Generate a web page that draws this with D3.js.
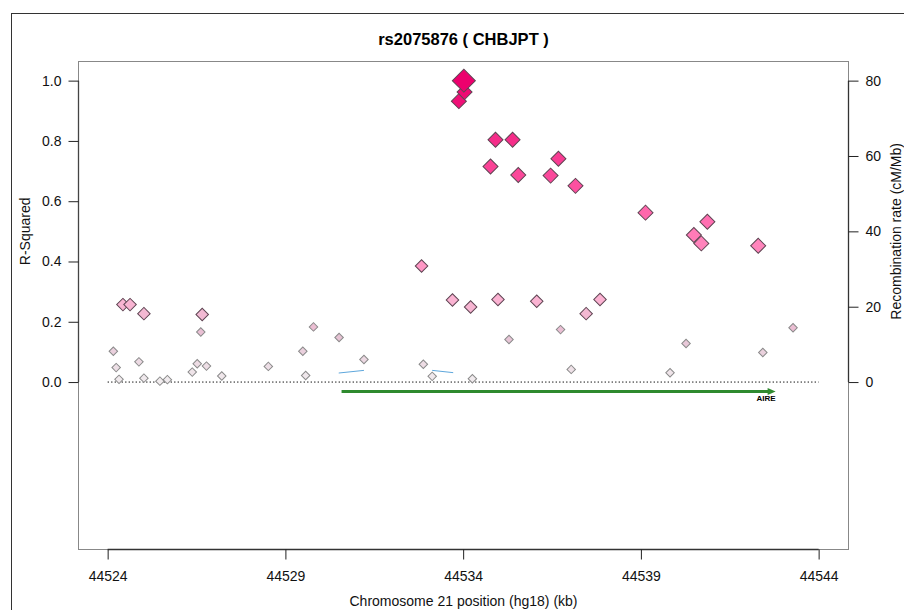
<!DOCTYPE html>
<html>
<head>
<meta charset="utf-8">
<script src="https://cdn.jsdelivr.net/npm/d3@7"></script>
<style>
  body { margin: 0; background: #fff; }
  text { font-family: "Liberation Sans", Arial, sans-serif; }
</style>
</head>
<body>
<div id="main"></div>
<script>
const ctx = {
    CHART_WIDTH: 904,
    CHART_HEIGHT: 610,
    FONT_SIZE: 14
};

const plot = {left: 78.5, right: 848.5, top: 61.5, bottom: 549.5};

// SNPs: position (kb) and r-squared with the query SNP
const snpPos = [44524.16, 44524.24, 44524.32, 44524.43, 44524.63, 44524.88, 44525.02, 44525.02,
    44525.47, 44525.68, 44526.38, 44526.52, 44526.62, 44526.66, 44526.78, 44527.21,
    44528.52, 44529.49, 44529.57, 44529.79, 44530.51, 44531.21, 44532.83, 44532.88,
    44533.13, 44533.70, 44533.88, 44534.02, 44534.04, 44534.21, 44534.26, 44534.77,
    44534.91, 44534.98, 44535.29, 44535.39, 44535.55, 44536.07, 44536.46, 44536.68,
    44536.74, 44537.04, 44537.16, 44537.46, 44537.85, 44539.13, 44539.82, 44540.27,
    44540.49, 44540.70, 44540.87, 44542.30, 44542.43, 44543.28];
const snpR2 = [0.102, 0.048, 0.009, 0.257, 0.257, 0.067, 0.227, 0.013,
    0.003, 0.008, 0.033, 0.061, 0.166, 0.224, 0.053, 0.020,
    0.052, 0.102, 0.022, 0.183, 0.148, 0.075, 0.385, 0.059,
    0.019, 0.272, 0.932, 1.000, 0.962, 0.249, 0.011, 0.715,
    0.804, 0.274, 0.141, 0.804, 0.687, 0.268, 0.685, 0.741,
    0.174, 0.042, 0.651, 0.227, 0.274, 0.562, 0.031, 0.128,
    0.488, 0.460, 0.532, 0.452, 0.098, 0.180];

// recombination rate (cM/Mb), null = gap
const recombPos = [44530.50, 44531.21, null, 44533.13, 44533.72];
const recombRate = [2.4, 3.1, null, 3.1, 2.5];

const geneName = "AIRE";
const geneStart = 44530.58;
const geneEnd = 44542.79;

const xTicks = [44524, 44529, 44534, 44539, 44544];
const yTicks = [0.0, 0.2, 0.4, 0.6, 0.8, 1.0];
const rTicks = [0, 20, 40, 60, 80];

const title = "rs2075876 ( CHBJPT )";
const xLabel = "Chromosome 21 position (hg18) (kb)";
const yLabel = "R-Squared";
const rLabel = "Recombination rate (cM/Mb)";

function createViz() {
    let svg = d3.select("#main").append("svg")
        .attr("width", ctx.CHART_WIDTH)
        .attr("height", ctx.CHART_HEIGHT);

    let xScale = d3.scaleLinear().domain([44523.18, 44544.84]).range([plot.left, plot.right]);
    let yScale = d3.scaleLinear().domain([-0.5555, 1.0635]).range([plot.bottom, plot.top]);
    let rScale = d3.scaleLinear().domain([0, 80]).range([yScale(0), yScale(1)]);

    // outer frame (runs past the window on right and bottom)
    svg.append("rect")
        .attr("x", 11.5).attr("y", 13.5)
        .attr("width", 1000).attr("height", 1000)
        .attr("fill", "none").attr("stroke", "#333");

    // plot box
    svg.append("rect")
        .attr("x", plot.left).attr("y", plot.top)
        .attr("width", plot.right - plot.left).attr("height", plot.bottom - plot.top)
        .attr("fill", "none").attr("stroke", "#888");

    drawAxes(svg, xScale, yScale, rScale);

    // dotted zero line
    svg.append("line")
        .attr("x1", xScale(44524)).attr("x2", xScale(44544))
        .attr("y1", yScale(0)).attr("y2", yScale(0))
        .attr("stroke", "#000").attr("stroke-dasharray", "1.3,2.2");

    // recombination rate
    let recomb = recombPos.map((p, i) => ({pos: p, rate: recombRate[i]}));
    svg.append("path")
        .datum(recomb)
        .attr("fill", "none")
        .attr("stroke", "#5ea7dc")
        .attr("stroke-width", 1)
        .attr("d", d3.line()
            .defined(d => d.pos !== null)
            .x(d => xScale(d.pos))
            .y(d => rScale(d.rate)));

    drawGene(svg, xScale, yScale);
    drawSnps(svg, xScale, yScale);

    // title
    svg.append("text")
        .attr("x", (plot.left + plot.right) / 2).attr("y", 45)
        .attr("text-anchor", "middle")
        .attr("font-size", 16.5).attr("font-weight", "bold")
        .text(title);
}

function drawAxes(svg, xScale, yScale, rScale) {
    let axisG = svg.append("g").attr("id", "axes");

    // bottom
    let bottom = axisG.append("g")
        .attr("transform", `translate(0, ${plot.bottom})`)
        .call(d3.axisBottom(xScale).tickValues(xTicks).tickSize(10).tickPadding(12).tickFormat(d3.format("d")));
    bottom.select(".domain").attr("d", `M${xScale(xTicks[0])},0H${xScale(xTicks[xTicks.length - 1])}`)
        .attr("stroke", "#333").attr("stroke-width", 1.6);

    // left
    let left = axisG.append("g")
        .attr("transform", `translate(${plot.left}, 0)`)
        .call(d3.axisLeft(yScale).tickValues(yTicks).tickSize(10).tickPadding(7).tickFormat(d3.format(".1f")));
    left.select(".domain").attr("d", `M0,${yScale(0)}V${yScale(1)}`)
        .attr("stroke", "#444").attr("stroke-width", 1.3);

    // right
    let right = axisG.append("g")
        .attr("transform", `translate(${plot.right}, 0)`)
        .call(d3.axisRight(rScale).tickValues(rTicks).tickSize(10).tickPadding(7));
    right.select(".domain").attr("d", `M0,${rScale(0)}V${rScale(80)}`)
        .attr("stroke", "#333").attr("stroke-width", 1.3);

    axisG.selectAll(".tick text")
        .attr("font-family", "Liberation Sans, Arial, sans-serif")
        .attr("font-size", ctx.FONT_SIZE).attr("fill", "#111");
    axisG.selectAll(".tick line").attr("stroke", "#222");

    axisG.append("text")
        .attr("x", (plot.left + plot.right) / 2).attr("y", 606)
        .attr("text-anchor", "middle").attr("font-size", ctx.FONT_SIZE).attr("fill", "#111")
        .text(xLabel);

    let labelY = (yScale(0) + yScale(1)) / 2;
    axisG.append("text")
        .attr("transform", `translate(30, ${labelY}) rotate(-90)`)
        .attr("text-anchor", "middle").attr("font-size", ctx.FONT_SIZE).attr("fill", "#111")
        .text(yLabel);
    axisG.append("text")
        .attr("transform", `translate(901, ${labelY}) rotate(-90)`)
        .attr("text-anchor", "middle").attr("font-size", ctx.FONT_SIZE).attr("fill", "#111")
        .text(rLabel);
}

function drawGene(svg, xScale, yScale) {
    let gy = yScale(-0.031);
    let x0 = xScale(geneStart), x1 = xScale(geneEnd);
    svg.append("line")
        .attr("x1", x0).attr("x2", x1 - 5)
        .attr("y1", gy).attr("y2", gy)
        .attr("stroke", "#2f8a2f").attr("stroke-width", 3);
    svg.append("path")
        .attr("d", `M${x1},${gy}L${x1 - 8},${gy - 3.5}L${x1 - 8},${gy + 3.5}Z`)
        .attr("fill", "#2f8a2f");
    svg.append("text")
        .attr("x", x1).attr("y", gy + 10)
        .attr("text-anchor", "end")
        .attr("font-size", 8).attr("font-weight", "bold")
        .text(geneName);
}

function drawSnps(svg, xScale, yScale) {
    const colorScale = d3.scaleLinear()
        .domain([0, 0.15, 0.3, 0.6, 1])
        .range(["#f1edef", "#e6c2d4", "#ffafd1", "#ff5ca7", "#ec006d"]);
    // width of diamond across, by r-squared bin
    const widthScale = d3.scaleThreshold()
        .domain([0.2, 0.4, 0.99])
        .range([8.5, 12.5, 15, 23]);

    let snps = snpPos.map((p, i) => ({pos: p, r2: snpR2[i]}))
        .sort((a, b) => d3.ascending(a.r2, b.r2));

    svg.append("g").attr("id", "snps")
        .selectAll("path")
        .data(snps)
        .enter()
        .append("path")
        .attr("transform", d => `translate(${xScale(d.pos)}, ${yScale(d.r2)}) rotate(45)`)
        .attr("d", d => d3.symbol(d3.symbolSquare, widthScale(d.r2) ** 2 / 2)())
        .attr("fill", d => colorScale(d.r2))
        .attr("stroke", d => d.r2 < 0.2 ? "#8a8a8a" : "#5e4452")
        .attr("stroke-width", 1);

    console.log(`SNPs drawn: ${snps.length}`);
}

createViz();
</script>
</body>
</html>
